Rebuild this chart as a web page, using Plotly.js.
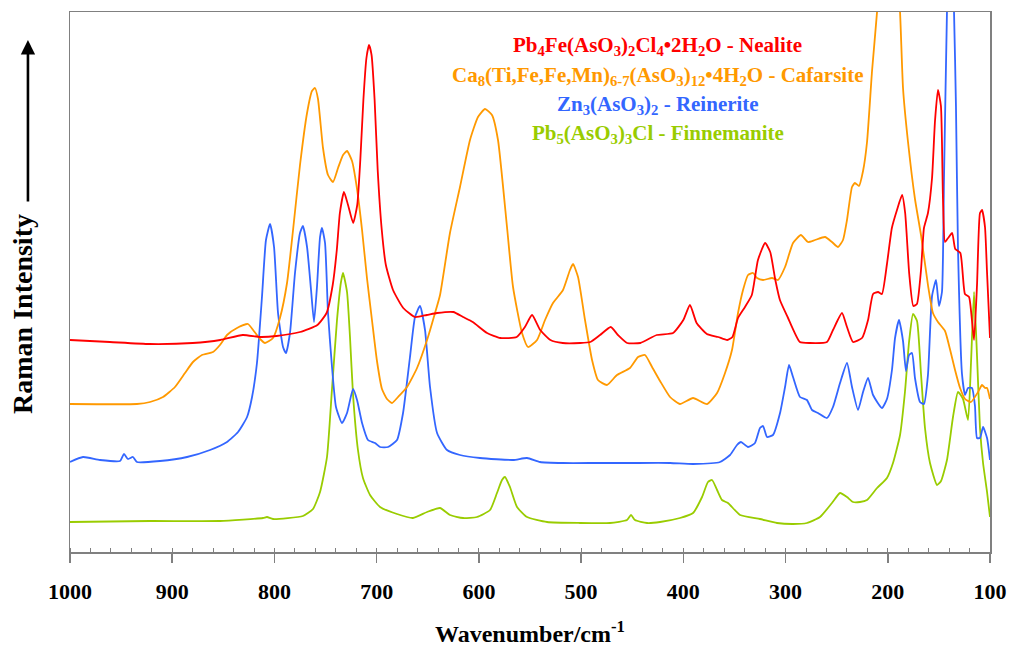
<!DOCTYPE html>
<html>
<head>
<meta charset="utf-8">
<script src="https://cdn.plot.ly/plotly-3.0.1.min.js"></script>
<style>html,body{margin:0;padding:0;background:#fff;}#chart{width:1011px;height:649px;}</style>
</head>
<body>
<div id="chart"></div>
<script>
// Wavenumber (cm-1) and relative Raman intensity (stacked, arbitrary units)
const nealiteX = [1000,961,922,880,853,831,814,798,775,758,749,743,739,736,732,728,723,719,716,713,710,707.5,705,702,699,695,691,684,674,662.5,651,641,625,615.5,606,592,579,563,555,548,540,530,518,501,491,481.5,471,464,455,442,426,410,400,393.5,387,377,366,357,352,346.5,339.7,333,327,320,315,310,305.5,298,286,276,259.5,253.6,244.8,239.9,234,225.2,219.3,214.4,209.5,205.7,200.8,196,191,186,183,179,175,171.5,167.5,164.6,160.7,156.7,153.8,150.9,148,146,144,141,137,134,129,124.5,120.5,117.6,115.6,112.7,109.8,107.8,104.9,103,100];
const nealiteY = [212,210,208,209,212,217,215,216,220,227,239,267,302,339,360,347,329,347,392,452,494,507,497,452,382,322,287,262,244,235,237,239,240,235,230,219,214,215,225,237,222,212,209,209,210,217,225,217,209,209,217,219,232,247,229,218,215,212,215,234,245,257,292,309,300,272,252,235,210,209,210,222,239,225,210,214,232,258,260,258,288,324,342,357,339,278,246,248,282,324,339,374,431,462,446,353,310,314,319,303,299,258,255,231,212,267,339,342,325,282,214];

const cafarsiteX = [1000,934.5,921.7,909,897.3,887.5,879.7,870.9,860.1,853.3,846.4,836.6,825.9,820.9,814.1,809.2,801.4,794.6,787.7,781.8,775,768.1,763.3,760.3,757.4,752.5,747.6,742.7,737.8,732.9,729,724.1,719.2,714.3,709.5,704.6,699.7,694.8,689.9,685,679.1,670.3,660.5,650.7,642.9,638,628.3,618.5,608.7,600.9,594,587.2,581.3,572.5,566.6,557.8,551.9,543.1,535.3,527.5,517.7,510.9,507.9,503,496.2,489.3,483.5,474.7,464.9,452.2,444.3,437.5,430.6,422.8,413,403.3,390.5,376.8,367,359.2,352.4,346.5,341.6,336.7,331.8,327.9,322,313.2,307.4,300.5,292.7,285,278.1,271.2,261.4,254.6,248.7,243.8,239.9,235,232.1,228.2,224.2,220.3,215.4,210.5,207.6,202.7,197.8,192.9,188,185.1,180.2,173.4,167.5,160.7,155.8,150.9,144,139.2,134.2,129.3,124.4,118.6,111.7,107.8,104.9,102.9,100];
const cafarsiteY = [148,148,150,155,165,179,190,197,200,207,217,224,228,222,213,209,214,234,269,322,387,439,461,464,453,404,377,370,384,397,401,391,363,322,274,232,191,163,153,149,155,165,184,212,239,257,319,365,412,435,443,437,412,325,265,219,205,212,232,249,262,282,288,275,232,192,172,167,177,184,195,197,185,171,155,148,154,148,159,179,202,239,262,277,279,274,272,274,272,285,309,317,310,312,315,310,305,312,332,365,369,366,381,410,481,540,592,612,627,612,540,464,410,353,317,267,239,230,221,203,182,164,153,150,160,167,164,164,153];

const reineriteX = [1000,987.3,970.7,951.1,947.2,943.3,938.4,934.5,912,885.5,863,846.4,835.6,826.8,821.9,817.1,812.2,808.3,804.3,800.4,796.5,791.6,788.7,784.8,779.9,775,772.1,768.1,764.2,761.3,758.4,755.4,753.5,750.5,747.6,743.7,739.8,733.9,729,723.1,719.2,714.3,708.5,701.6,696.7,688.9,680.1,674.2,667.4,662.5,657.6,652.7,647.8,640.9,631.2,618.5,598.9,566.6,552.9,540.2,517.7,484.5,452.2,413,390.5,364.1,354.3,347.5,343.6,336.7,329.9,325,322,318.1,312.3,305.4,300.5,296.6,292.7,285.9,279.1,274.1,268.3,259.5,253.6,246.7,239.9,235,229.1,224.2,219.3,214.4,205.7,200.8,195.9,192.9,189,185.1,182.2,179.2,176.3,173.4,168.5,164.6,160.7,156.7,152.8,149.9,147,145,142.1,141.1,138.6,136.2,135.2,133.3,131.3,127.4,124.4,121.5,117.6,114.7,112.7,109.8,106.8,102.9,100];
const reineriteY = [90,95,92,91,98,93,95,90,91,95,102,110,120,135,155,189,255,312,328,305,239,205,199,219,279,319,326,305,262,230,265,315,324,309,239,185,145,129,139,163,152,129,112,109,105,105,112,139,195,235,246,222,165,119,102,97,94,92,94,90,89,89,89,89,88,90,97,107,110,105,109,124,126,115,117,139,165,187,175,155,152,142,139,134,145,169,189,165,142,160,174,157,144,153,182,214,232,211,181,197,199,174,150,148,177,256,272,246,260,374,540,572,592,567,540,446,303,178,157,164,164,146,114,114,125,114,92];

const finnemaniteX = [1000,921.7,853.3,811.2,807.3,801.4,772.1,762.3,755.4,748.6,743.7,738.8,734.9,732.9,729,726.1,723.1,718.3,713.4,706.5,696.7,680.1,664.5,650.7,638,628.3,615.5,601.9,589.1,582.3,577.4,574.5,569.6,562.7,552.9,533.3,501.1,471.7,455.1,451.2,447.3,435.5,422.8,403.3,390.5,381.7,375.9,371.9,367,362.2,356.3,344.5,325,308.4,292.7,279.1,266.3,254.6,246.7,239.9,234,227.2,220.3,210.5,200.8,194.9,188,183.2,179.2,175.3,171.4,167.5,163.6,158.7,151.8,147.9,142.1,136.2,131.3,126.4,121.5,118.6,115.6,112.7,109.8,106.8,102.9,100];
const finnemaniteY = [30,31,31,34,35,33,36,43,60,95,163,232,270,279,260,215,157,102,74,57,45,38,34,40,44,37,34,35,42,59,72,75,65,45,35,30,29,29,32,37,32,29,30,34,39,55,70,72,62,52,49,37,33,29,28,29,35,49,59,55,50,50,52,64,74,89,117,160,210,238,231,178,124,89,67,71,92,135,160,153,132,189,260,196,124,89,60,35];

const xTickVals = [1000,900,800,700,600,500,400,300,200,100];
const xTickText = ['1000','900','800','700','600','500','400','300','200','100'];

const seriesNames = [
  'Pb<sub>4</sub>Fe(AsO<sub>3</sub>)<sub>2</sub>Cl<sub>4</sub>•2H<sub>2</sub>O - Nealite',
  'Ca<sub>8</sub>(Ti,Fe,Fe,Mn)<sub>6-7</sub>(AsO<sub>3</sub>)<sub>12</sub>•4H<sub>2</sub>O - Cafarsite',
  'Zn<sub>3</sub>(AsO<sub>3</sub>)<sub>2</sub> - Reinerite',
  'Pb<sub>5</sub>(AsO<sub>3</sub>)<sub>3</sub>Cl - Finnemanite'
];
const seriesColors = ['#FF0000','#FF9900','#3366FF','#99CC00'];

const serif = '"Liberation Serif", "Times New Roman", Times, serif';
const lw = 1.8;
const traces = [
  {x: finnemaniteX, y: finnemaniteY, name: seriesNames[3], line: {color: seriesColors[3], width: lw, shape: 'spline', smoothing: 0.5}},
  {x: reineriteX, y: reineriteY, name: seriesNames[2], line: {color: seriesColors[2], width: lw, shape: 'spline', smoothing: 0.5}},
  {x: cafarsiteX, y: cafarsiteY, name: seriesNames[1], line: {color: seriesColors[1], width: lw, shape: 'spline', smoothing: 0.5}},
  {x: nealiteX, y: nealiteY, name: seriesNames[0], line: {color: seriesColors[0], width: lw, shape: 'spline', smoothing: 0.5}}
].map(t => Object.assign({type: 'scatter', mode: 'lines', hoverinfo: 'skip'}, t));

const legendY = [0.937, 0.881, 0.828, 0.774];
const annotations = seriesNames.map((n, i) => ({
  xref: 'paper', yref: 'paper', x: 0.639, y: legendY[i],
  xanchor: 'center', yanchor: 'middle', showarrow: false,
  text: '<b>' + n + '</b>',
  font: {family: serif, size: 21, color: seriesColors[i]}
}));
annotations.push({
  xref: 'paper', yref: 'paper', x: -0.051, y: 0.441, textangle: -90,
  xanchor: 'center', yanchor: 'middle', showarrow: false,
  text: '<b>Raman Intensity</b>', font: {family: serif, size: 28, color: '#000'}
});
annotations.push({
  xref: 'paper', yref: 'paper', x: -0.0457, y: 0.948, text: '',
  showarrow: true, ax: 0, ay: 163, arrowhead: 2, arrowsize: 1.1, arrowwidth: 2.6, arrowcolor: '#000'
});

const layout = {
  width: 1011, height: 649,
  margin: {l: 70, r: 21, t: 12, b: 97},
  paper_bgcolor: '#fff', plot_bgcolor: '#fff',
  showlegend: false,
  xaxis: {
    range: [1000, 100], tickvals: xTickVals, ticktext: xTickText,
    ticks: 'outside', ticklen: 9, tickwidth: 1.5, tickcolor: '#808080',
    minor: {dtick: 20, tick0: 0, ticks: 'inside', ticklen: 4, tickwidth: 1, tickcolor: '#808080'},
    showline: true, linecolor: '#808080', linewidth: 1.5, mirror: true,
    showgrid: false, zeroline: false,
    ticklabelstandoff: 10,
    tickfont: {family: serif, size: 22, color: '#000', weight: 'bold'},
    title: {text: '<b>Wavenumber/cm<sup>-1</sup></b>', font: {family: serif, size: 24, color: '#000'}, standoff: 22}
  },
  yaxis: {
    range: [0, 540], showticklabels: false, ticks: '',
    showline: true, linecolor: '#808080', linewidth: 1.5, mirror: true,
    showgrid: false, zeroline: false
  },
  annotations: annotations
};

Plotly.newPlot('chart', traces, layout, {staticPlot: true, displayModeBar: false});
</script>
</body>
</html>
